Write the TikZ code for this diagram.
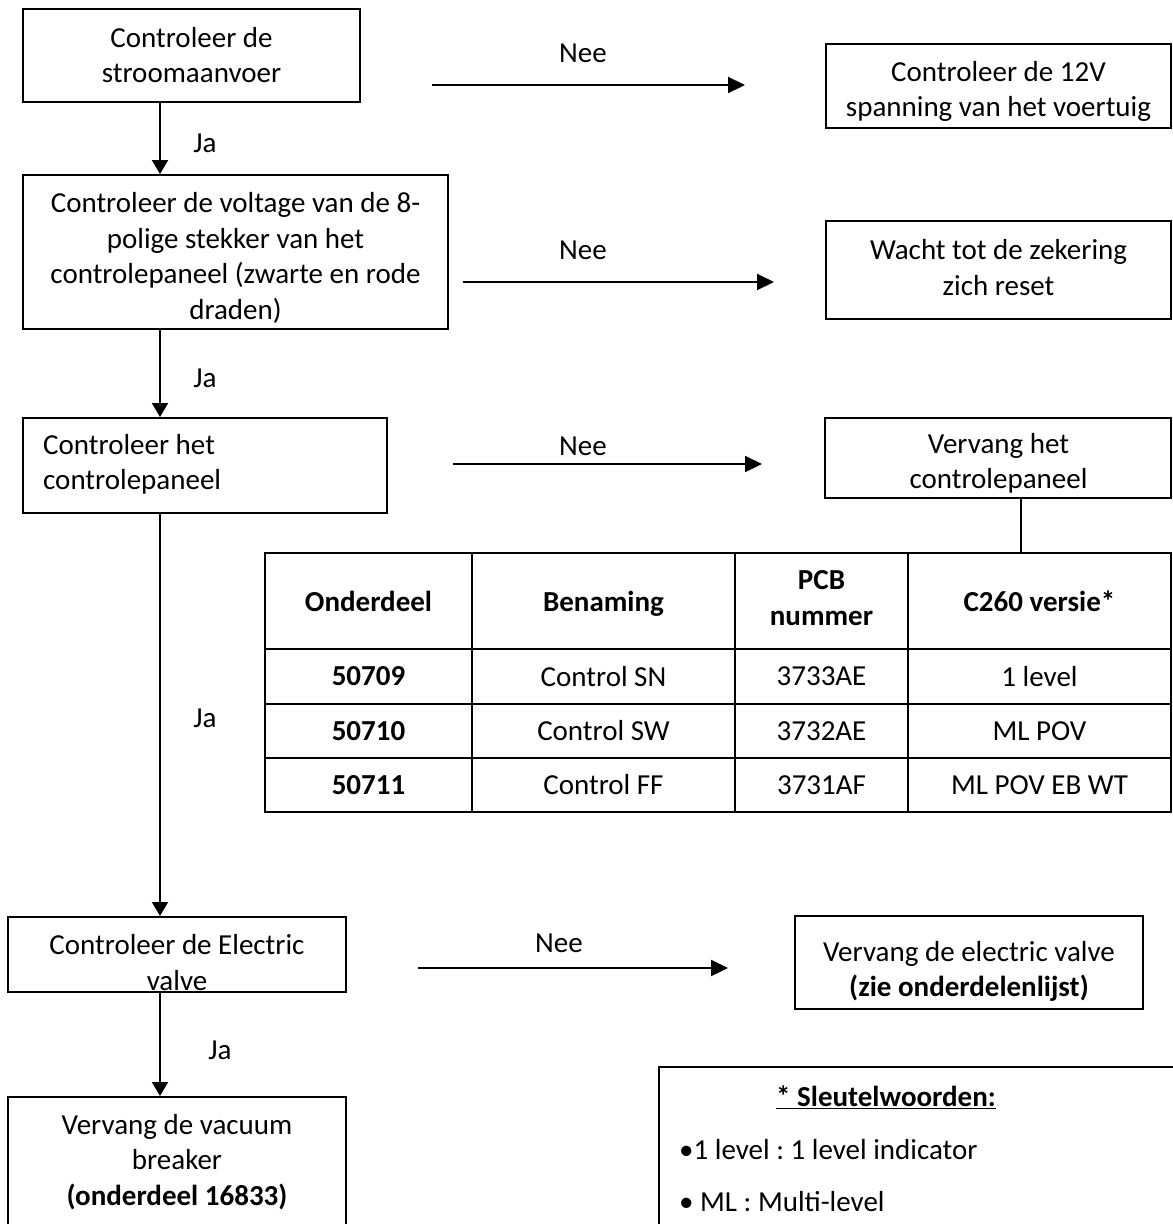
\documentclass[tikz,border=0pt]{standalone}
\usepackage{fontspec}
\setmainfont{Carlito}
\usetikzlibrary{arrows.meta,calc}
\frenchspacing
\begin{document}
\begin{tikzpicture}[x=1pt,y=-1pt,
  box/.style={draw,line width=2pt,inner sep=0pt},
  txt/.style={align=center,inner sep=0pt,font=\fontsize{29}{35.5}\selectfont},
  arr/.style={line width=2pt,-{Triangle[length=14pt,width=16pt]}},
  harr/.style={line width=2.2pt,-{Triangle[length=17pt,width=16pt]}},
  gridline/.style={line width=2.5pt}]
\useasboundingbox (0,0) rectangle (1173,1224);
\clip (0,0) rectangle (1173,1224);
\fill[white] (0,0) rectangle (1173,1224);

% left column boxes
\node[box,minimum width=337,minimum height=93] (b1) at (191.5,55.5) {};
\node[box,minimum width=425,minimum height=154] (b2) at (235.5,252) {};
\node[box,minimum width=364,minimum height=95] (b3) at (205,465.5) {};
\node[box,minimum width=338,minimum height=75] (b4) at (177,954.5) {};
\node[box,minimum width=338,minimum height=143] (b5) at (177,1168.5) {};
% right column boxes
\node[box,minimum width=345,minimum height=84] (a1) at (998.5,86) {};
\node[box,minimum width=345,minimum height=98] (a2) at (998.5,270) {};
\node[box,minimum width=346,minimum height=80] (a3) at (998,458) {};
\node[box,minimum width=348,minimum height=93] (a4) at (969,962.5) {};
\node[box,minimum width=531,minimum height=173] (leg) at (924.5,1153.5) {};

% texts
\node[txt] (t1) at (191.5,55) {Controleer de\\stroomaanvoer};
\node[txt] (t2) at (235.5,258) {Controleer de voltage van de 8-\\polige stekker van het\\controlepaneel (zwarte en rode\\draden)};
\node[txt,align=left,anchor=west] (t3) at (43,464.5) {Controleer het\\controlepaneel};
\node[txt] (t4) at (177,962.5) {Controleer de Electric\\valve};
\node[txt] (t5) at (177,1162) {Vervang de vacuum\\breaker\\\textbf{(onderdeel 16833)}};
\node[txt] (ta1) at (998.5,91.5) {Controleer de 12V\\spanning van het voertuig};
\node[txt] (ta2) at (998.5,267.5) {Wacht tot de zekering\\zich reset};
\node[txt] (ta3) at (998.5,463.5) {Vervang het\\controlepaneel};
\node[txt] (ta4) at (969,971.5) {Vervang de electric valve\\\textbf{(zie onderdelenlijst)}};

% vertical Ja arrows
\coordinate (ax) at (160,0);
\draw[arr] (b1.south -| ax) -- (b2.north -| ax);
\draw[arr] (b2.south -| ax) -- (b3.north -| ax);
\draw[arr] (b3.south -| ax) -- (b4.north -| ax);
\draw[arr] (b4.south -| ax) -- (b5.north -| ax);
\node[txt] (j1) at (205,143) {Ja};
\node[txt] (j2) at (205,378) {Ja};
\node[txt] (j3) at (205,718) {Ja};
\node[txt] (j4) at (220,1050) {Ja};

% horizontal Nee arrows
\coordinate (n1s) at (432,85);  \coordinate (n1e) at (745,85);
\coordinate (n2s) at (463,282); \coordinate (n2e) at (774,282);
\coordinate (n3s) at (453,464); \coordinate (n3e) at (762,464);
\coordinate (n4s) at (418,968); \coordinate (n4e) at (728,968);
\draw[harr] (n1s) -- (n1e);
\draw[harr] (n2s) -- (n2e);
\draw[harr] (n3s) -- (n3e);
\draw[harr] (n4s) -- (n4e);
\node[txt] (nee1) at (583,53) {Nee};
\node[txt] (nee2) at (583,250) {Nee};
\node[txt] (nee3) at (583,446) {Nee};
\node[txt] (nee4) at (559,943) {Nee};

% table
\node[draw,gridline,inner sep=0pt,minimum width=906,minimum height=259] (tbl) at (718,682.5) {};
\coordinate (cx) at (1021,0);
\draw[line width=2pt] (a3.south -| cx) -- (tbl.north -| cx);
\draw[gridline] (265,649) -- (1171,649);
\draw[gridline] (265,704) -- (1171,704);
\draw[gridline] (265,758) -- (1171,758);
\draw[gridline] (472,553) -- (472,812);
\draw[gridline] (735,553) -- (735,812);
\draw[gridline] (908,553) -- (908,812);

\node[txt] (h1) at (368.5,601) {\textbf{Onderdeel}};
\node[txt] (h2) at (603.5,604) {\textbf{Benaming}};
\node[txt] (h3) at (821.5,598) {\textbf{PCB}\\\textbf{nummer}};
\node[txt] (h4) at (1039.5,601) {\textbf{C260 versie*}};

\node[txt] (r11) at (368.5,676.5) {\textbf{50709}};
\node[txt] (r12) at (603.5,676.5) {Control SN};
\node[txt] (r13) at (821.5,676.5) {3733AE};
\node[txt] (r14) at (1039.5,676.5) {1 level};

\node[txt] (r21) at (368.5,731) {\textbf{50710}};
\node[txt] (r22) at (603.5,731) {Control SW};
\node[txt] (r23) at (821.5,731) {3732AE};
\node[txt] (r24) at (1039.5,731) {ML POV};

\node[txt] (r31) at (368.5,785) {\textbf{50711}};
\node[txt] (r32) at (603.5,785) {Control FF};
\node[txt] (r33) at (821.5,785) {3731AF};
\node[txt] (r34) at (1039.5,785) {ML POV EB WT};

% legend
\node[txt] (lt) at (886,1097) {\textbf{\underline{* Sleutelwoorden:}}};
\node[txt,anchor=west] (l1) at (679,1150) {•1 level : 1 level indicator};
\node[txt,anchor=west] (l2) at (679,1202) {• ML : Multi-level};
\end{tikzpicture}
\end{document}
